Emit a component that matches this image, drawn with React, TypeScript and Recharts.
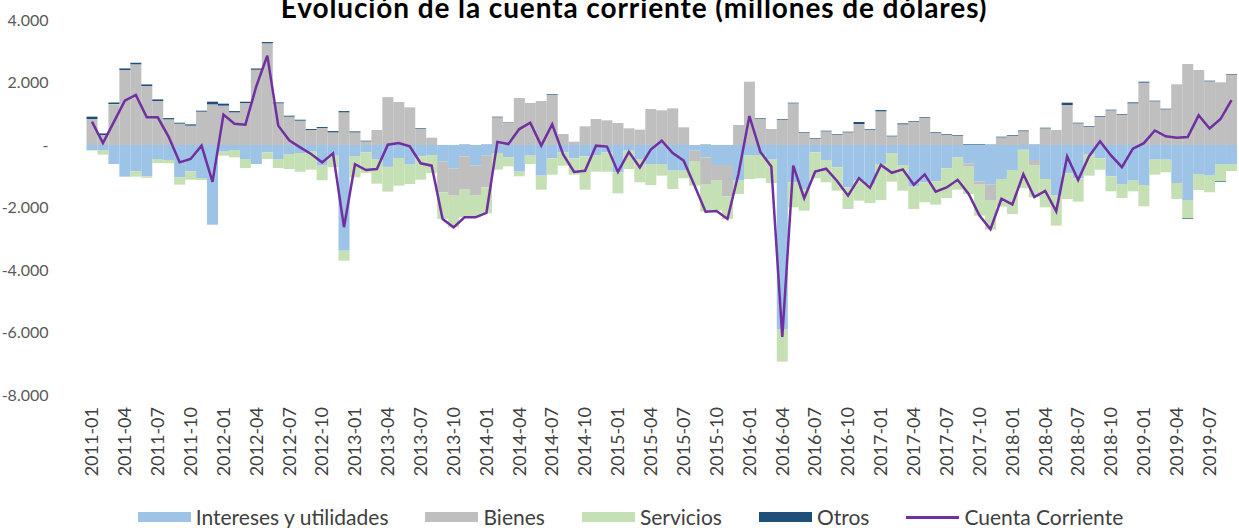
import React from 'react';
import { ComposedChart, Bar, Line, XAxis, YAxis } from 'recharts';

const meses = [
  '2011-01', '2011-02', '2011-03', '2011-04', '2011-05', '2011-06', '2011-07', '2011-08', '2011-09', '2011-10', '2011-11', '2011-12',
  '2012-01', '2012-02', '2012-03', '2012-04', '2012-05', '2012-06', '2012-07', '2012-08', '2012-09', '2012-10', '2012-11', '2012-12',
  '2013-01', '2013-02', '2013-03', '2013-04', '2013-05', '2013-06', '2013-07', '2013-08', '2013-09', '2013-10', '2013-11', '2013-12',
  '2014-01', '2014-02', '2014-03', '2014-04', '2014-05', '2014-06', '2014-07', '2014-08', '2014-09', '2014-10', '2014-11', '2014-12',
  '2015-01', '2015-02', '2015-03', '2015-04', '2015-05', '2015-06', '2015-07', '2015-08', '2015-09', '2015-10', '2015-11', '2015-12',
  '2016-01', '2016-02', '2016-03', '2016-04', '2016-05', '2016-06', '2016-07', '2016-08', '2016-09', '2016-10', '2016-11', '2016-12',
  '2017-01', '2017-02', '2017-03', '2017-04', '2017-05', '2017-06', '2017-07', '2017-08', '2017-09', '2017-10', '2017-11', '2017-12',
  '2018-01', '2018-02', '2018-03', '2018-04', '2018-05', '2018-06', '2018-07', '2018-08', '2018-09', '2018-10', '2018-11', '2018-12',
  '2019-01', '2019-02', '2019-03', '2019-04', '2019-05', '2019-06', '2019-07', '2019-08', '2019-09',
];

const intereses = [
  -160, -180, -608, -1013, -843, -1000, -448, -480, -1035, -843, -1056, -2550,
  -213, -160, -448, -608, -235, -448, -288, -256, -213, -661, -341, -3382,
  -373, -235, -448, -700, -416, -629, -363, -320, -533, -747, -363, -661,
  -341, -256, -395, -853, -341, -981, -427, -235, -427, -363, -320, -235,
  -875, -181, -448, -629, -608, -821, -821, -181, -395, -640, -640, -1141,
  -341, -320, -469, -5889, -1195, -1408, -235, -501, -715, -1355, -1141, -1248,
  -608, -256, -640, -1333, -1195, -1163, -747, -395, -587, -1163, -1269, -1088,
  -800, -149, -480, -1088, -1621, -907, -1067, -288, -427, -1003, -1269, -1141,
  -1280, -469, -469, -1216, -1760, -928, -981, -629, -608,
];

const bienes = [
  832, 320, 1280, 2400, 2582, 1888, 1408, 821, 683, 619, 1067, 1301,
  1259, 1045, 1344, 2411, 3254, 1333, 907, 779, 480, 544, 405, 1045,
  405, 117, 480, 1504, 1376, 1205, 512, 235, -981, -875, -1067, -960,
  -1013, 885, 725, 1504, 1344, 1408, 1611, 352, 107, 597, 832, 789,
  704, 533, 491, 1152, 1109, 1173, 565, -352, -853, -501, -1003, 640,
  2027, 832, 512, 811, 1333, 384, 192, 437, 320, 405, 672, 491,
  1077, 277, 661, 747, 875, 395, 331, 299, -107, -107, -491, 245,
  299, 437, -181, 533, 480, 1280, 693, 587, 907, 1109, 971, 1333,
  1995, 1398, 1141, 1942, 2593, 2400, 2038, 2006, 2240,
];

const servicios = [
  -20, -130, 30, 0, -170, -50, -128, -107, -235, -267, -64, 0,
  -128, -235, -288, 0, -213, -288, -480, -600, -576, -469, -370, -320,
  -661, -661, -789, -793, -885, -619, -747, -576, -853, -1013, -885, -693,
  -832, -533, -288, -149, -267, -448, -523, -427, -523, -1067, -533, -619,
  -672, -587, -747, -651, -373, -587, -245, -768, -885, -960, -725, -427,
  -747, -747, -747, -1045, -800, -693, -832, -693, -747, -693, -640, -608,
  -1152, -917, -821, -715, -640, -747, -949, -1035, -875, -992, -949, -885,
  -1408, -1237, -1013, -907, -960, -821, -747, -693, -363, -480, -427, -341,
  -683, -480, -405, -512, -587, -512, -533, -533, -224,
];

const otros = [
  75, 50, 50, 50, 50, 50, 50, 40, 30, 40, 30, 85,
  64, 40, 40, 40, 40, 30, 30, 30, 30, 30, 40, 40,
  30, 20, 0, 10, 0, 0, 20, 0, 0, 0, 10, 0,
  10, 20, 10, 0, 0, 0, 20, 0, 0, 0, 0, 0,
  0, 0, 0, 0, 0, 0, 0, 0, 10, 0, 0, 0,
  0, 20, 0, 20, 20, 20, 20, 20, 20, 20, 64, 20,
  40, 20, 30, 20, 20, 20, 20, 20, 20, 20, 10, 20,
  20, 30, 10, 20, 0, 75, 20, 20, 20, 20, 20, 30,
  30, 20, 20, 0, -20, 0, 20, -20, 20,
];

const cuentaCorriente = [
  747, 64, 740, 1419, 1600, 885, 885, 260, -555, -448, -21, -1180,
  971, 680, 650, 1880, 2860, 620, 150, -75, -288, -555, -267, -2630,
  -615, -800, -770, 11, 60, -43, -585, -661, -2368, -2635, -2315, -2315,
  -2170, 100, 30, 510, 715, -21, 660, -300, -860, -825, -21, -50,
  -860, -220, -720, -145, 135, -260, -501, -1301, -2134, -2110, -2368, -928,
  925, -220, -690, -6140, -661, -1700, -853, -760, -1150, -1621, -1060, -1370,
  -640, -890, -780, -1275, -940, -1493, -1360, -1115, -1560, -2255, -2695, -1720,
  -1900, -935, -1665, -1470, -2120, -370, -1120, -360, 120, -335, -710, -115,
  58, 465, 280, 230, 255, 950, 530, 830, 1435,
];

const yTicks = [-8000, -6000, -4000, -2000, 0, 2000, 4000];

const data = meses.map((mes, i) => ({
  mes,
  intereses: intereses[i],
  bienes: bienes[i],
  servicios: servicios[i],
  otros: otros[i],
  cuenta: cuentaCorriente[i],
}));

const FONT = 'Lato, "Open Sans", sans-serif';

const formatY = (v: number) => {
  if (v === 0) return '-';
  const s = Math.abs(v).toString().replace(/\B(?=(\d{3})+(?!\d))/g, '.');
  return v < 0 ? `-${s}` : s;
};

const XTick = ({ x, y, payload }: any) => (
  <g transform={`translate(${x},${y + 6})`}>
    <text transform="rotate(-90)" x={0} y={0} dy="0.35em" textAnchor="end" fill="#404040" fontSize={18} fontFamily={FONT}>
      {payload.value}
    </text>
  </g>
);

const legendItems = [
  { label: 'Intereses y utilidades', color: '#9DC3E6', line: false },
  { label: 'Bienes', color: '#BFBFBF', line: false },
  { label: 'Servicios', color: '#C5E0B4', line: false },
  { label: 'Otros', color: '#1F4E79', line: false },
  { label: 'Cuenta Corriente', color: '#7030A0', line: true },
];

export default function App() {
  return (
    <div style={{ position: 'absolute', left: 0, top: 0, width: 1239, height: 528, overflow: 'hidden', background: '#fff' }}>
      <div
        style={{
          position: 'absolute',
          top: -7,
          left: 0,
          width: 1268,
          textAlign: 'center',
          fontFamily: FONT,
          fontWeight: 700,
          fontSize: 28,
          letterSpacing: 0.9,
          lineHeight: '28px',
          color: '#000',
          whiteSpace: 'nowrap',
        }}
      >
        Evolución de la cuenta corriente (millones de dólares)
      </div>
      <ComposedChart
        width={1239}
        height={528}
        data={data}
        stackOffset="sign"
        barCategoryGap={0}
        margin={{ top: 20, right: 2, bottom: 0, left: 0 }}
      >
        <XAxis
          dataKey="mes"
          interval={2}
          height={133}
          tickLine={false}
          axisLine={false}
          tickMargin={0}
          tick={<XTick />}
        />
        <YAxis
          width={86.5}
          domain={[-8000, 4000]}
          ticks={yTicks}
          tickFormatter={formatY}
          tickLine={false}
          axisLine={false}
          tickMargin={32}
          tick={{ fill: '#595959', fontSize: 16, fontFamily: FONT }}
        />
        <Bar dataKey="intereses" stackId="a" fill="#9DC3E6" isAnimationActive={false} />
        <Bar dataKey="bienes" stackId="a" fill="#BFBFBF" isAnimationActive={false} />
        <Bar dataKey="servicios" stackId="a" fill="#C5E0B4" isAnimationActive={false} />
        <Bar dataKey="otros" stackId="a" fill="#1F4E79" isAnimationActive={false} />
        <Line
          dataKey="cuenta"
          type="linear"
          stroke="#7030A0"
          strokeWidth={2.5}
          dot={false}
          isAnimationActive={false}
        />
      </ComposedChart>
      <div
        style={{
          position: 'absolute',
          top: 505,
          left: 22,
          width: 1217,
          display: 'flex',
          justifyContent: 'center',
          alignItems: 'center',
          gap: 37,
          fontFamily: FONT,
          fontSize: 21,
          color: '#404040',
          lineHeight: '24px',
        }}
      >
        {legendItems.map((it) => (
          <div key={it.label} style={{ display: 'flex', alignItems: 'center' }}>
            <div
              style={{
                width: 53,
                height: it.line ? 3 : 10,
                background: it.color,
                marginRight: 5,
              }}
            />
            <span>{it.label}</span>
          </div>
        ))}
      </div>
    </div>
  );
}
